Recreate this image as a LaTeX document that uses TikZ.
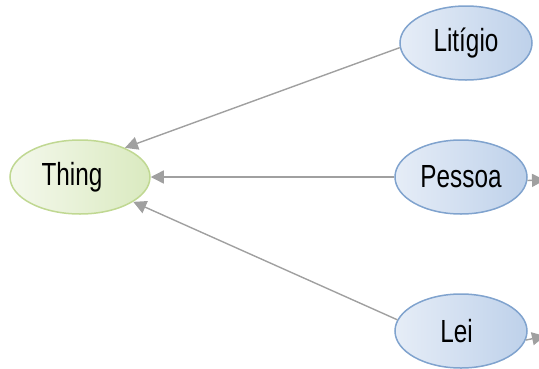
\documentclass[tikz,border=0pt]{standalone}
\usepackage{fontspec}
\setmainfont[FakeStretch=0.76]{Liberation Sans}
\usetikzlibrary{arrows.meta,shapes.geometric}
\definecolor{gborder}{RGB}{192,216,146}
\definecolor{glight}{RGB}{244,248,236}
\definecolor{gdark}{RGB}{218,234,192}
\definecolor{bborder}{RGB}{128,163,206}
\definecolor{blight}{RGB}{230,237,247}
\definecolor{bdark}{RGB}{190,209,234}
\definecolor{arr}{RGB}{160,160,160}
\tikzset{
  base/.style={ellipse, minimum height=74pt, inner sep=0pt, line width=1.5pt,
    font=\fontsize{32}{38}\selectfont, text=black},
  gnode/.style={base, draw=gborder, left color=glight, right color=gdark, minimum width=140pt},
  bnode/.style={base, draw=bborder, left color=blight, right color=bdark, minimum width=132pt},
  conn/.style={draw=arr, line width=1.4pt, -{Triangle[length=13pt,width=13pt]}, arr}
}
\begin{document}
\begin{tikzpicture}[x=1pt,y=-1pt]
\useasboundingbox (0,0) rectangle (539,368);
\clip (0,0) rectangle (539,368);
\node[gnode] (thing) at (80,177) {Thing\kern16pt\relax};
\node[bnode] (lit) at (466,43) {Litígio};
\node[bnode] (pes) at (461,177) {Pessoa};
\node[bnode] (lei) at (461,331) {Lei\kern9pt\relax};
\coordinate (pout) at (545,180);
\coordinate (lout) at (545,336);
\draw[conn] (lit.184) -- (thing.33);
\draw[conn] (pes.west) -- (thing.east);
\draw[conn] (lei.170) -- (thing.-25);
\draw[conn] (pes.-3) -- (pout);
\draw[conn] (lei.-8) -- (lout);
\end{tikzpicture}
\end{document}
